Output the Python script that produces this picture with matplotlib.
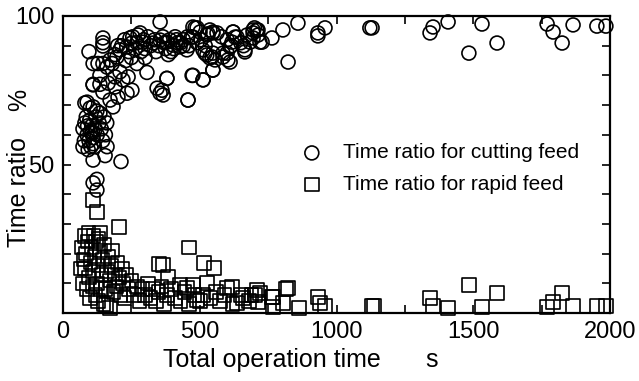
import numpy as np
import matplotlib
matplotlib.use("Agg")
import matplotlib.pyplot as plt
from matplotlib.ticker import MultipleLocator

plt.rcParams["font.family"] = ["Liberation Sans", "DejaVu Sans"]

# ── data (x: total operation time s, y: ratio %) ────────────────────────────
cut_x = [695, 713, 720, 764, 804, 859, 823, 932, 932, 958, 1122, 1130, 1342,
         1353, 1408, 1484, 1532, 1587, 1770, 1792, 1825, 1865, 1952, 1985,
         208, 233, 252, 274, 245, 292, 330, 355, 380, 402, 428, 453, 475, 483,
         501, 526, 548, 563, 622, 636, 673, 695, 307, 380, 344, 355, 457, 475,
         512, 548, 519, 545, 585, 611, 665, 282,
         110, 135, 161, 172, 197, 146, 172, 183, 135, 110, 201, 234, 252, 219,
         238, 208, 190, 165, 190,
         215, 225, 240, 255, 265, 270, 285, 295, 300, 310, 320, 335, 340, 350,
         365, 375, 390, 410, 420, 440, 460, 470, 490, 505, 520, 530, 580, 600,
         615, 650, 660, 700, 230, 250, 270, 300, 180, 190, 200,
         355, 146, 146, 146, 95, 110, 128, 146, 135, 110, 88, 99, 124, 80,
         475, 490, 537, 548, 622, 629, 618, 611, 600, 585, 603, 665, 684, 695,
         709, 713, 728, 512, 526, 537, 548, 556, 548, 472, 512, 457, 380, 362,
         366, 370, 395, 415, 440, 455, 385, 405, 430,
         73, 80, 88, 95, 100, 105, 110, 118, 125, 132, 140, 150, 160, 85, 92,
         102, 78, 120, 145, 155, 115, 90, 98, 108,
         73, 110, 161, 110, 154, 212, 124, 110, 124]
cut_y = [94.3, 95.3, 91.2, 92.6, 95.3, 97.6, 84.5, 94.3, 93.3, 96.0, 96.0,
         96.0, 94.3, 96.3, 98.0, 87.5, 97.3, 90.9, 97.3, 94.6, 90.9, 97.0,
         96.6, 96.6,
         88.6, 89.6, 90.9, 93.6, 92.6, 91.2, 90.9, 91.9, 91.2, 90.2, 89.6, 88.6,
         92.9, 96.0, 94.6, 93.6, 94.6, 94.3, 94.6, 92.9, 93.6, 95.3, 81.0, 79.0,
         75.7, 74.0, 71.7, 80.0, 78.5, 81.8, 87.5, 86.2, 87.5, 84.5, 87.9, 94.3,
         76.8, 80.0, 82.8, 85.2, 86.2, 74.4, 71.7, 69.4, 67.3, 69.4, 72.7, 74.0,
         75.0, 78.5, 79.5, 81.2, 79.5, 77.4, 76.1,
         90, 92, 88, 93, 89, 91, 88, 92, 89, 93, 90, 92, 88, 90,
         93, 89, 92, 93, 91, 92, 90, 93, 91, 92, 90, 94, 93, 92,
         90, 91, 90, 96, 85, 86, 84, 86, 84, 87, 90,
         98.0, 92.6, 91.0, 89.9, 88.0, 84.0, 84.0, 84.0, 77.0, 77.0, 71.0,
         69.0, 68.0, 70.7,
         96.3, 96.0, 95.3, 94.3, 94.6, 92.9, 91.2, 89.6, 87.5, 86.2, 85.2,
         88.6, 91.2, 92.6, 95.3, 93.6, 91.2, 88.6, 86.9, 85.9, 87.5, 85.2,
         81.8, 80.0, 78.5, 71.7, 79.0, 75.0, 73.4, 91, 88, 92, 90, 93, 87, 89, 91,
         62, 64, 60, 58, 61, 63, 59, 62, 60, 64, 62, 66, 64, 66, 55,
         56, 58, 66, 58, 60, 56, 63, 65, 61,
         56, 57, 56, 51.5, 53, 51, 45, 43.8, 41.4]

rapid_x = [702, 720, 768, 804, 823, 863, 932, 940, 958, 1130, 1137, 1342, 1353,
           1408, 1484, 1532, 1587, 1770, 1792, 1825, 1865, 1952, 1985,
           205, 135, 80, 461, 516, 552, 351, 366, 384, 475, 526, 600, 618, 709,
           764, 815, 636, 658, 713, 768, 512, 490, 428, 453, 110, 124,
           70, 75, 80, 85, 90, 95, 100, 105, 110, 115, 120, 125, 130, 135, 140,
           145, 150, 155, 160, 165, 170, 175, 180, 185, 190, 195, 200, 205, 210,
           215, 220, 225, 230, 240, 250, 260, 270, 280, 290, 300, 310, 320, 330,
           340, 350, 360, 370, 380, 395, 410, 430, 445, 460, 480, 500, 540, 560,
           575, 590, 620, 650, 680, 690,
           65, 72, 88, 98, 108, 118, 128, 138, 148, 158, 172, 112, 130, 93]
rapid_y = [6.1, 6.7, 5.4, 3.4, 8.4, 1.7, 5.4, 3.4, 2.4, 2.4, 2.4, 5.1, 2.4,
           1.7, 9.4, 2.0, 6.7, 2.0, 3.7, 6.7, 2.4, 2.4, 2.4,
           29.0, 27.0, 26.0, 22.0, 16.8, 15.2, 16.5, 16.2, 12.1, 9.4, 10.1, 8.4,
           8.8, 7.7, 5.4, 8.0, 3.4, 5.0, 3.7, 2.0, 6.0, 4.4, 9.4, 8.4, 38.0, 34.0,
           22, 18, 15, 20, 24, 12, 17, 22, 14, 19, 24, 10, 16, 21, 13,
           18, 23, 8, 14, 19, 11, 16, 21, 7, 13, 9, 17, 12, 6,
           15, 10, 5, 13, 8, 11, 6, 9, 4, 8, 6, 10, 5, 8,
           4, 7, 9, 3, 6, 8, 5, 4, 7, 3, 6, 4, 5, 7,
           4, 6, 3, 6, 4, 6,
           15, 10, 8, 5, 9, 6, 4, 8, 3, 2.7, 1.7, 26, 25, 27]

fig = plt.figure(figsize=(6.39, 3.81), dpi=100)
ax = fig.add_axes([63 / 639, 1 - 313 / 381, 547 / 639, 297 / 381])

ax.scatter(cut_x, cut_y, s=100, marker="o", facecolors="none",
           edgecolors="black", linewidths=1.2, label="Time ratio for cutting feed",
           clip_on=False, zorder=3)
ax.scatter(rapid_x, rapid_y, s=95, marker="s", facecolors="none",
           edgecolors="black", linewidths=1.2, label="Time ratio for rapid feed",
           clip_on=False, zorder=3)

ax.set_xlim(0, 2000)
ax.set_ylim(0, 100)
ax.xaxis.set_major_locator(MultipleLocator(500))
ax.xaxis.set_minor_locator(MultipleLocator(250))
ax.set_yticks([50, 100])
ax.yaxis.set_minor_locator(MultipleLocator(10))
ax.tick_params(which="both", direction="in", top=True, right=True,
               width=1.2, length=6, labelsize=17, pad=6)
for sp in ax.spines.values():
    sp.set_linewidth(1.6)

ax.legend(loc="upper left", bbox_to_anchor=(291 / 639, 1 - 133 / 381),
          bbox_transform=fig.transFigure, frameon=False, fontsize=15,
          handletextpad=1.0, handlelength=1.0, borderpad=0, labelspacing=0.6,
          scatterpoints=1)

fig.text(19 / 639, 1 - 192 / 381, "Time ratio", rotation=90, fontsize=18,
         ha="center", va="center")
fig.text(19 / 639, 1 - 100 / 381, "%", rotation=90, fontsize=18,
         ha="center", va="center")
fig.text(272 / 639, 1 - 360 / 381, "Total operation time", fontsize=18,
         ha="center", va="center")
fig.text(432 / 639, 1 - 360 / 381, "s", fontsize=18, ha="center", va="center")

fig.savefig("out.png", dpi=100)
